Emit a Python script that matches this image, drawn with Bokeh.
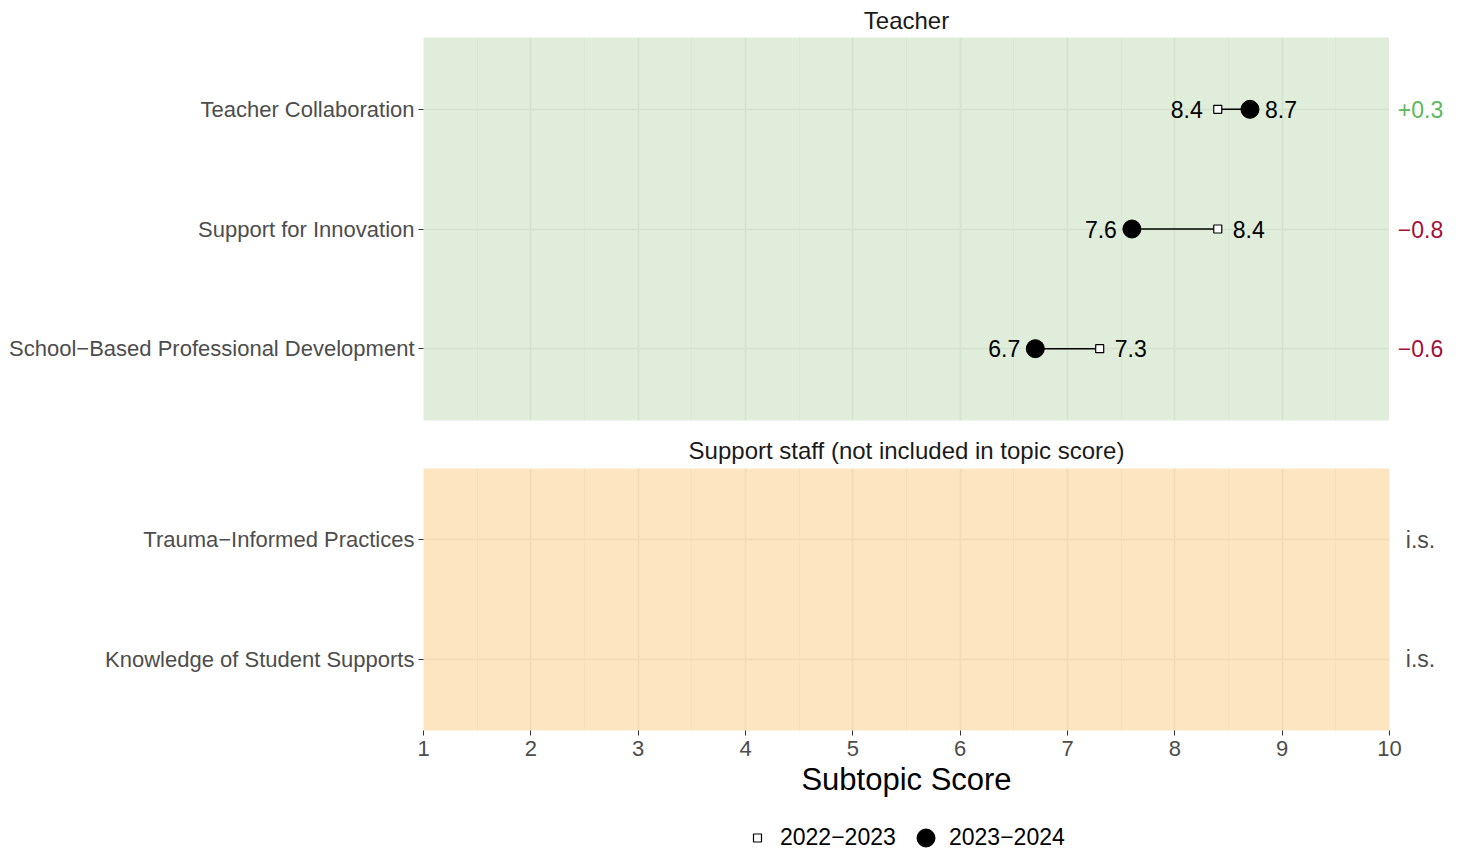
import math
from bokeh.plotting import figure
from bokeh.models import (FixedTicker, ColumnDataSource, Legend, LegendItem,
                          Range1d, Title)
from bokeh.layouts import column, row
from bokeh.core.properties import value
from bokeh.embed import file_html
from bokeh.resources import INLINE

# ---------------- data ----------------
teacher_title = "Teacher"
teacher_subtopics = ["School\u2212Based Professional Development",
                     "Support for Innovation",
                     "Teacher Collaboration"]
teacher_prev = [7.3, 8.4, 8.4]   # 2022-2023
teacher_curr = [6.7, 7.6, 8.7]   # 2023-2024

staff_title = "Support staff (not included in topic score)"
staff_subtopics = ["Knowledge of Student Supports",
                   "Trauma\u2212Informed Practices"]
staff_prev = [float("nan"), float("nan")]
staff_curr = [float("nan"), float("nan")]

year_labels = ["2022\u22122023", "2023\u22122024"]
x_ticks = [1, 2, 3, 4, 5, 6, 7, 8, 9, 10]
x_minor = [1.5, 2.5, 3.5, 4.5, 5.5, 6.5, 7.5, 8.5, 9.5]
x_title = "Subtopic Score"

# ---------------- styles ----------------
FONT = "Liberation Sans"
GREEN_BG, GREEN_GRID, GREEN_MINOR = "#dfedda", "#d2e3ce", "#d8e8d4"
PEACH_BG, PEACH_GRID, PEACH_MINOR = "#fde5c2", "#f3dab5", "#f8dfbb"
POS_COL, NEG_COL, NA_COL = "#5cb85c", "#a50f3a", "#4d4d4d"
AX_TXT = "#4d4d4d"

x_range = Range1d(1, 10)
LEFT = 423
FRAME_W = 966
SIDE_W = 62


def fmt_delta(p, c):
    if math.isnan(p) or math.isnan(c):
        return "i.s.", NA_COL
    d = round(c - p, 1)
    if d >= 0:
        return "+%.1f" % d, POS_COL
    return "\u2212%.1f" % abs(d), NEG_COL


def make_panel(title, subtopics, prev, curr, bg, grid, minor, height, top, bottom,
               bottom_axis, title_standoff, right_pad):
    n = len(subtopics)
    ys = list(range(1, n + 1))
    y_range = Range1d(0.4, n + 0.6)
    p = figure(width=LEFT + FRAME_W + right_pad, height=height, x_range=x_range,
               y_range=y_range, output_backend="svg", toolbar_location=None,
               min_border_left=LEFT, min_border_right=right_pad,
               min_border_top=top, min_border_bottom=bottom)
    p.title = Title(text=title, align="center", text_font=FONT, text_font_size="24px",
                    text_font_style="normal", text_color="#1a1a1a",
                    standoff=title_standoff)
    p.background_fill_color = bg
    p.border_fill_color = "white"
    p.outline_line_color = None

    # grids
    p.xgrid.ticker = FixedTicker(ticks=x_ticks, minor_ticks=x_minor)
    p.xgrid.grid_line_color = grid
    p.xgrid.grid_line_width = 1.6
    p.xgrid.minor_grid_line_color = minor
    p.xgrid.minor_grid_line_width = 1.0
    p.ygrid.ticker = FixedTicker(ticks=ys)
    p.ygrid.grid_line_color = grid
    p.ygrid.grid_line_width = 1.6

    # y axis
    ya = p.yaxis[0]
    ya.ticker = FixedTicker(ticks=ys)
    ya.major_label_overrides = {y: s for y, s in zip(ys, subtopics)}
    ya.axis_line_color = None
    ya.major_tick_line_color = "#333333"
    ya.major_tick_out = 5
    ya.major_tick_in = 0
    ya.minor_tick_line_color = None
    ya.major_label_standoff = 4
    ya.major_label_text_font = FONT
    ya.major_label_text_font_size = "22px"
    ya.major_label_text_color = AX_TXT

    xa = p.xaxis[0]
    if bottom_axis:
        xa.ticker = FixedTicker(ticks=x_ticks)
        xa.axis_line_color = None
        xa.major_tick_line_color = "#333333"
        xa.major_tick_out = 5
        xa.major_tick_in = 0
        xa.minor_tick_line_color = None
        xa.major_label_standoff = 5
        xa.major_label_text_font = FONT
        xa.major_label_text_font_size = "22px"
        xa.major_label_text_color = AX_TXT
        xa.axis_label = x_title
        xa.axis_label_text_font = FONT
        xa.axis_label_text_font_size = "31px"
        xa.axis_label_text_font_style = "normal"
        xa.axis_label_text_color = "black"
        xa.axis_label_standoff = 3
    else:
        xa.visible = False

    src = ColumnDataSource(dict(y=ys, prev=prev, curr=curr))
    p.segment(x0="prev", x1="curr", y0="y", y1="y", source=src,
              line_color="black", line_width=1.5)
    p.scatter(x="prev", y="y", source=src, marker="square", size=8,
              fill_color="white", line_color="black", line_width=1.2)
    p.scatter(x="curr", y="y", source=src, marker="circle", size=18,
              fill_color="black", line_color="black")

    # value labels: lower value to the left, higher to the right
    lx, ltxt, rx, rtxt, ly = [], [], [], [], []
    for y, a, b in zip(ys, prev, curr):
        if math.isnan(a) or math.isnan(b):
            continue
        lo, hi = min(a, b), max(a, b)
        lx.append(lo); ltxt.append("%.1f" % lo)
        rx.append(hi); rtxt.append("%.1f" % hi)
        ly.append(y)
    if ly:
        p.text(x=lx, y=ly, text=ltxt, x_offset=-15, text_align="right",
               text_baseline="middle", text_font=value(FONT), text_font_size="23px",
               text_color="black")
        p.text(x=rx, y=ly, text=rtxt, x_offset=15, text_align="left",
               text_baseline="middle", text_font=value(FONT), text_font_size="23px",
               text_color="black")

    # side strip with change labels
    sw = SIDE_W - right_pad
    s = figure(width=sw, height=height, x_range=Range1d(0, 1), y_range=y_range,
               output_backend="svg", toolbar_location=None,
               x_axis_type=None, y_axis_type=None,
               min_border_left=0, min_border_right=0,
               min_border_top=top, min_border_bottom=bottom)
    s.outline_line_color = None
    s.background_fill_color = "white"
    s.grid.visible = False
    dtxt, dcol = [], []
    for a, b in zip(prev, curr):
        t, c = fmt_delta(a, b)
        dtxt.append(t); dcol.append(c)
    dsrc = ColumnDataSource(dict(x=[0.0] * n, y=ys, t=dtxt, c=dcol))
    s.text(x="x", y="y", text="t", source=dsrc, x_offset=31 - right_pad,
           text_align="center", text_baseline="middle", text_font=value(FONT),
           text_font_size="23px", text_color="c")
    return p, s


p1, s1 = make_panel(teacher_title, teacher_subtopics, teacher_prev, teacher_curr,
                    GREEN_BG, GREEN_GRID, GREEN_MINOR, height=430, top=37, bottom=10,
                    bottom_axis=False, title_standoff=8, right_pad=0)
p2, s2 = make_panel(staff_title, staff_subtopics, staff_prev, staff_curr,
                    PEACH_BG, PEACH_GRID, PEACH_MINOR, height=376, top=38, bottom=76,
                    bottom_axis=True, title_standoff=9, right_pad=13)

# ---------------- legend strip ----------------
nan = float("nan")
lg = figure(width=LEFT + FRAME_W + SIDE_W, height=45, x_range=Range1d(0, 1),
            y_range=Range1d(0, 1), output_backend="svg", toolbar_location=None,
            x_axis_type=None, y_axis_type=None, min_border=0)
lg.outline_line_color = None
lg.grid.visible = False
r_prev = lg.scatter(x=[nan], y=[nan], marker="square", size=8,
                    fill_color="white", line_color="black", line_width=1.2)
r_curr = lg.scatter(x=[nan], y=[nan], marker="circle", size=18,
                    fill_color="black", line_color="black")
leg1 = Legend(items=[LegendItem(label=year_labels[0], renderers=[r_prev])],
              location=(747, 0), orientation="horizontal",
              glyph_width=20, glyph_height=27, label_height=27, label_standoff=13,
              padding=0, margin=0, spacing=0,
              label_text_font=FONT, label_text_font_size="23px", label_text_color="black",
              border_line_color=None, background_fill_alpha=0)
leg2 = Legend(items=[LegendItem(label=year_labels[1], renderers=[r_curr])],
              location=(903, -9), orientation="horizontal",
              glyph_width=45, glyph_height=45, label_height=45, label_standoff=1,
              padding=0, margin=0, spacing=0,
              label_text_font=FONT, label_text_font_size="23px", label_text_color="black",
              border_line_color=None, background_fill_alpha=0)
lg.add_layout(leg1, "center")
lg.add_layout(leg2, "center")

layout = column(row(p1, s1, spacing=0), row(p2, s2, spacing=0), lg, spacing=0)
open("out.html", "w").write(file_html(layout, INLINE))
